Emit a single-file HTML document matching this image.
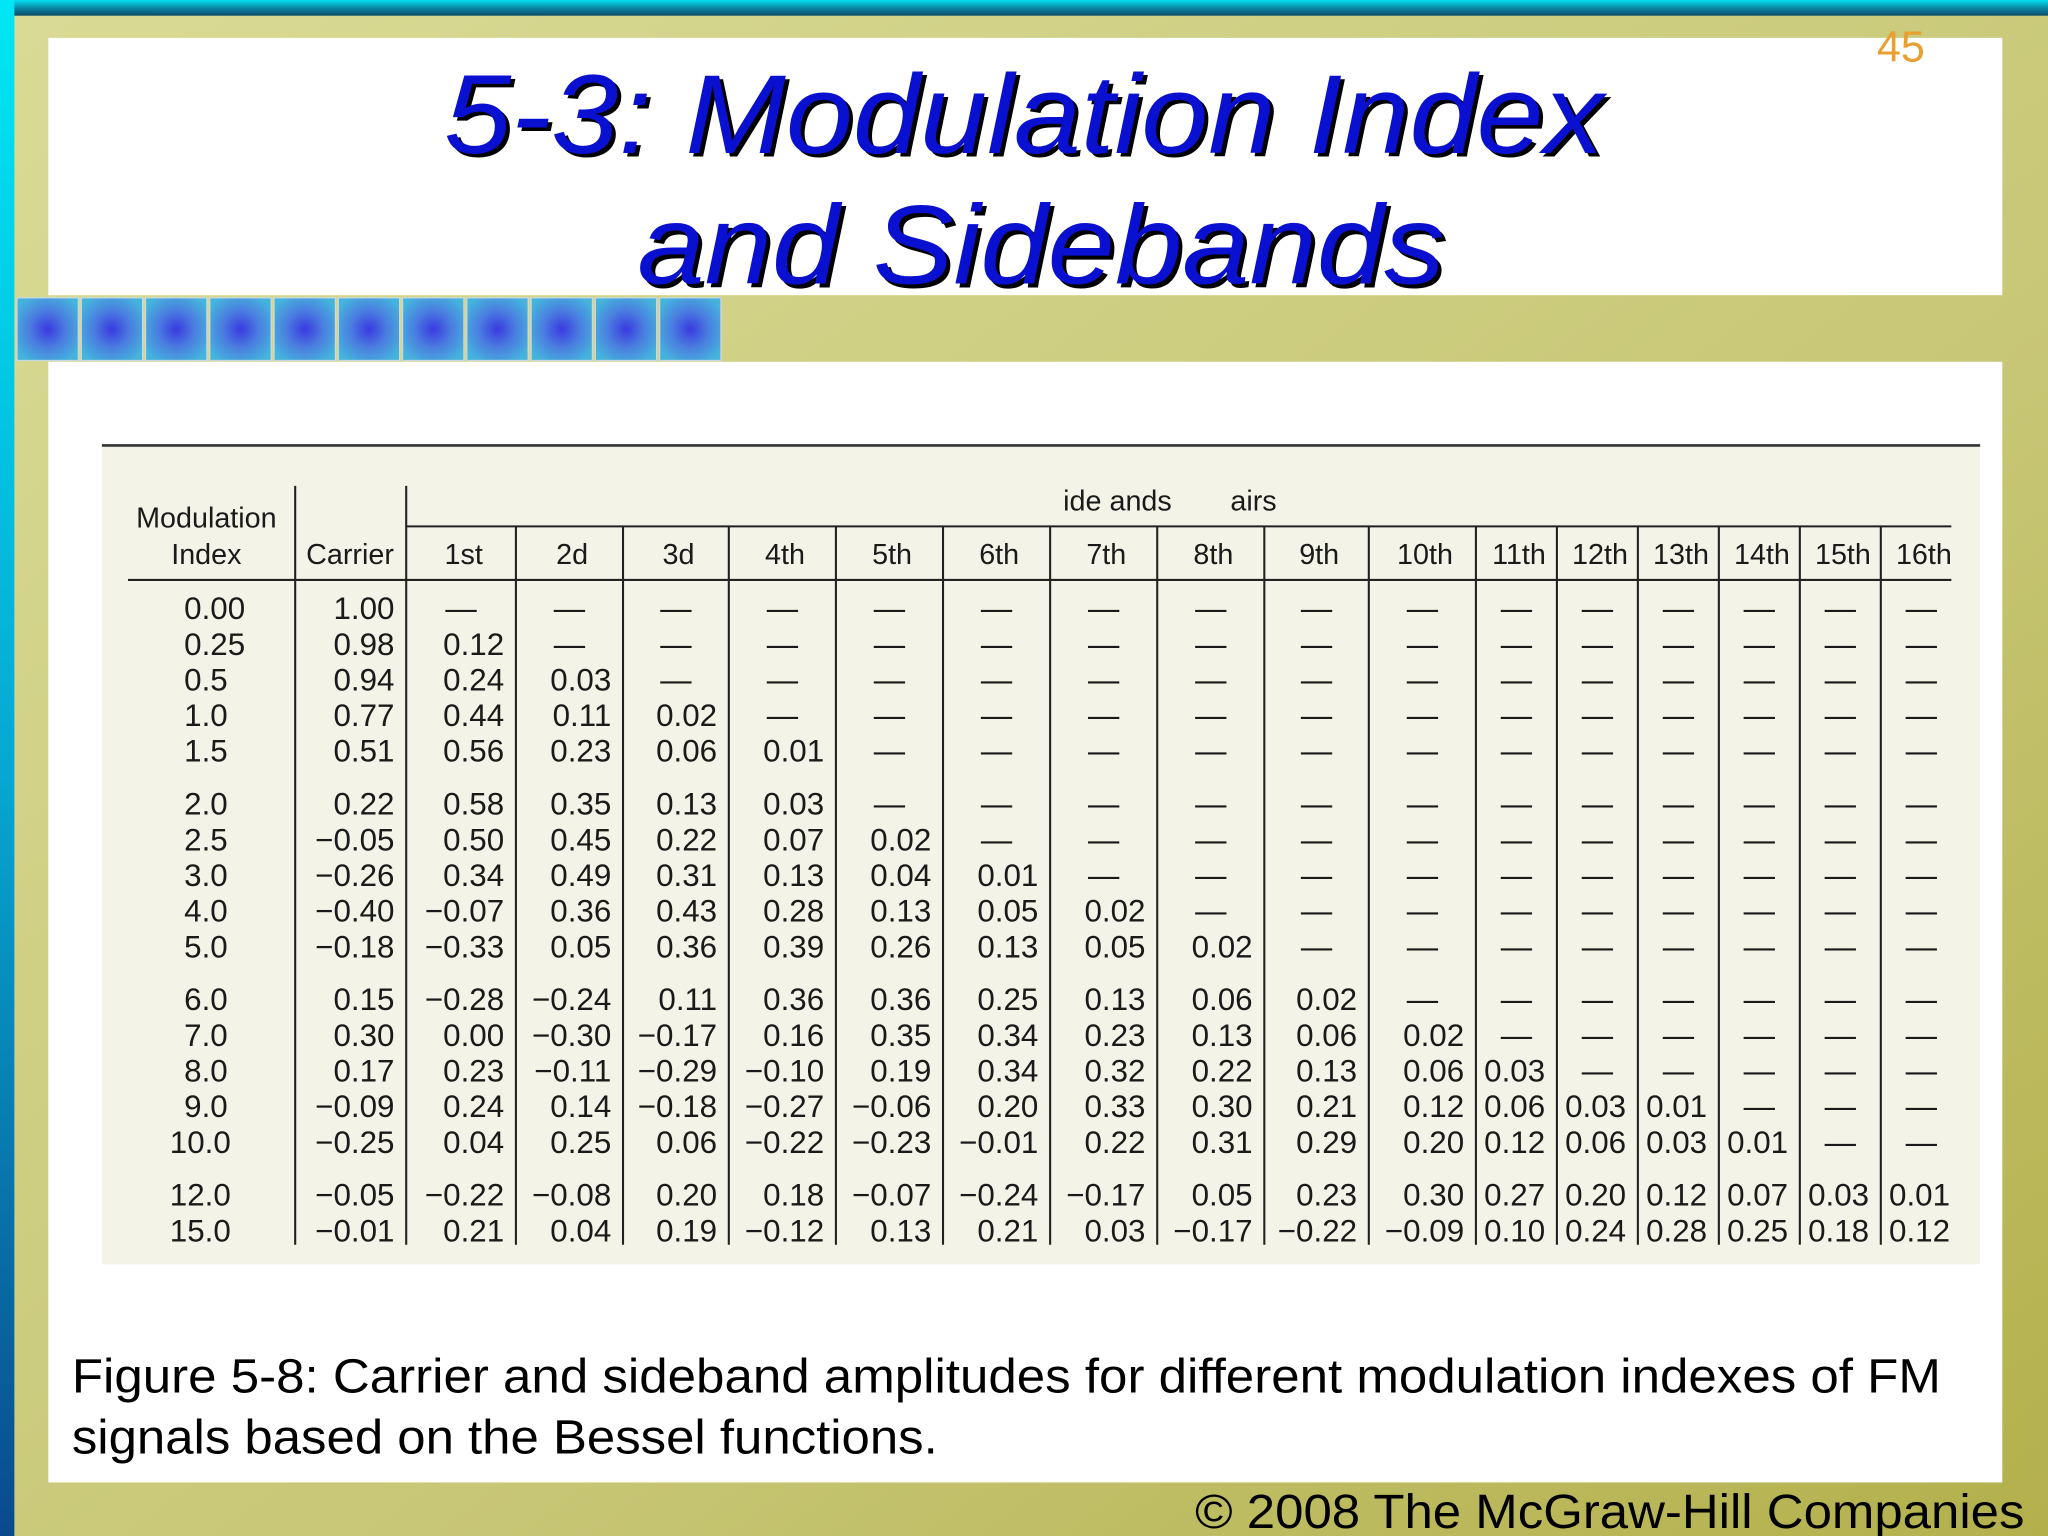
<!DOCTYPE html>
<html><head><meta charset="utf-8">
<style>
html,body{margin:0;padding:0;background:#fff;}
svg{display:block;}
text{font-family:"Liberation Sans",sans-serif;}
</style></head>
<body>
<svg id="page" width="2048" height="1536" viewBox="0 0 1568 1176" xmlns="http://www.w3.org/2000/svg">
<defs>
  <linearGradient id="olive" x1="0" y1="0" x2="1" y2="1">
    <stop offset="0" stop-color="#d9db96"/>
    <stop offset="0.6" stop-color="#c8c776"/>
    <stop offset="1" stop-color="#b3b04c"/>
  </linearGradient>
  <linearGradient id="leftbar" x1="0" y1="0" x2="0" y2="1">
    <stop offset="0" stop-color="#00e6f4"/>
    <stop offset="0.5" stop-color="#05a8d4"/>
    <stop offset="1" stop-color="#0a4a8c"/>
  </linearGradient>
  <linearGradient id="topbar" x1="0" y1="0" x2="0" y2="1">
    <stop offset="0" stop-color="#00e0f0"/>
    <stop offset="0.5" stop-color="#0a8aa8"/>
    <stop offset="1" stop-color="#0a4a68"/>
  </linearGradient>
  <radialGradient id="sq" cx="0.5" cy="0.5" r="0.6">
    <stop offset="0" stop-color="#3a3ae0"/>
    <stop offset="0.5" stop-color="#4a7ee0"/>
    <stop offset="1" stop-color="#45b4dc"/>
  </radialGradient>
</defs>
<rect x="0" y="0" width="1568" height="1176" fill="url(#olive)"/>
<rect x="0" y="0" width="1568" height="12" fill="url(#topbar)"/>
<rect x="0" y="0" width="11" height="1176" fill="url(#leftbar)"/>
<rect x="37" y="29" width="1496" height="197" fill="#ffffff"/>
<rect x="37" y="277" width="1496" height="858" fill="#ffffff"/>
<g id="squares"></g>

<text x="1437" y="47" font-size="33" fill="#e8a030">45</text>
<g font-style="italic" font-size="86">
  <text x="343" y="120" fill="#000" textLength="888" lengthAdjust="spacingAndGlyphs">5-3: Modulation Index</text>
  <text x="340" y="117" fill="#0a10d0" textLength="888" lengthAdjust="spacingAndGlyphs">5-3: Modulation Index</text>
  <text x="491" y="220" fill="#000" textLength="618" lengthAdjust="spacingAndGlyphs">and Sidebands</text>
  <text x="488" y="217" fill="#0a10d0" textLength="618" lengthAdjust="spacingAndGlyphs">and Sidebands</text>
</g>

<rect x="78" y="341" width="1438" height="627" fill="#f3f3e7"/>
<line x1="78" y1="341" x2="1516" y2="341" stroke="#333" stroke-width="2"/>
<g id="table"></g>

<g font-size="37" fill="#000">
  <text x="55" y="1066" textLength="1431" lengthAdjust="spacingAndGlyphs">Figure 5-8: Carrier and sideband amplitudes for different modulation indexes of FM</text>
  <text x="55" y="1113" textLength="663" lengthAdjust="spacingAndGlyphs">signals based on the Bessel functions.</text>
</g>
<text x="915" y="1170" font-size="37" fill="#000" textLength="635" lengthAdjust="spacingAndGlyphs">© 2008 The McGraw-Hill Companies</text>
</svg>
<script>
var indexLabels = ["0.00","0.25","0.5","1.0","1.5","2.0","2.5","3.0","4.0","5.0","6.0","7.0","8.0","9.0","10.0","12.0","15.0"];
var carrier = ["1.00","0.98","0.94","0.77","0.51","0.22","-0.05","-0.26","-0.40","-0.18","0.15","0.30","0.17","-0.09","-0.25","-0.05","-0.01"];
var sidebandHeaders = ["1st","2d","3d","4th","5th","6th","7th","8th","9th","10th","11th","12th","13th","14th","15th","16th"];
var sidebands = [
  [],
  ["0.12"],
  ["0.24","0.03"],
  ["0.44","0.11","0.02"],
  ["0.56","0.23","0.06","0.01"],
  ["0.58","0.35","0.13","0.03"],
  ["0.50","0.45","0.22","0.07","0.02"],
  ["0.34","0.49","0.31","0.13","0.04","0.01"],
  ["-0.07","0.36","0.43","0.28","0.13","0.05","0.02"],
  ["-0.33","0.05","0.36","0.39","0.26","0.13","0.05","0.02"],
  ["-0.28","-0.24","0.11","0.36","0.36","0.25","0.13","0.06","0.02"],
  ["0.00","-0.30","-0.17","0.16","0.35","0.34","0.23","0.13","0.06","0.02"],
  ["0.23","-0.11","-0.29","-0.10","0.19","0.34","0.32","0.22","0.13","0.06","0.03"],
  ["0.24","0.14","-0.18","-0.27","-0.06","0.20","0.33","0.30","0.21","0.12","0.06","0.03","0.01"],
  ["0.04","0.25","0.06","-0.22","-0.23","-0.01","0.22","0.31","0.29","0.20","0.12","0.06","0.03","0.01"],
  ["-0.22","-0.08","0.20","0.18","-0.07","-0.24","-0.17","0.05","0.23","0.30","0.27","0.20","0.12","0.07","0.03","0.01"],
  ["0.21","0.04","0.19","-0.12","0.13","0.21","0.03","-0.17","-0.22","-0.09","0.10","0.24","0.28","0.25","0.18","0.12"]
];
var NS = "http://www.w3.org/2000/svg";
function mk(tag, attrs, parent){var e=document.createElementNS(NS,tag);for(var k in attrs)e.setAttribute(k,attrs[k]);parent.appendChild(e);return e;}

// squares
var sqG = document.getElementById('squares');
for (var i=0;i<11;i++){
  var r = mk('rect',{x:13+i*49.2,y:228,width:47,height:48,fill:'url(#sq)',stroke:'#c8d8e0','stroke-width':1},sqG);
  
  
}

// table geometry
var colLines = [226,311,395,477,558,640,722,804,886,968,1048,1130,1192,1254,1316,1378,1440,1502];
var groupGap = [0,0,0,0,0,1,1,1,1,1,2,2,2,2,2,3,3];
var rowPitch = 27.3, groupPitch = 13.2, firstBaseline = 474;
function rowY(i){ return firstBaseline + i*rowPitch + groupGap[i]*groupPitch; }
function fmt(v){ return v.replace('-','\u2212'); }

var tG = document.getElementById('table');
function line(x1,y1,x2,y2,name){
  var l = mk('line',{x1:x1,y1:y1,x2:x2,y2:y2,stroke:'#222','stroke-width':1.6},tG);
  
  
}
function txt(x,y,s,anchor,name,size){
  var t = mk('text',{x:x,y:y,'font-size':size||24,fill:'#1a1a1a','text-anchor':anchor},tG);
  t.textContent = s;
  
  
  return t;
}
// rules
line(311,403,1494,403,'sideband-header-rule');
line(98,444,1494,444,'header-bottom-rule');
line(226,372,226,953,'index-column-divider');
line(311,372,311,953,'carrier-column-divider');
for (var c=2;c<17;c++) line(colLines[c],403,colLines[c],953,'sideband-column-divider');

// headers
txt(158,404,'Modulation','middle','index-header',22);
txt(158,432,'Index','middle','index-header',22);
txt(268,432,'Carrier','middle','carrier-header',22);
txt(814,391,'ide ands','start','sidebands-header',22);
txt(942,391,'airs','start','sidebands-header',22);
for (var c=0;c<16;c++){
  var cx=(colLines[c+1]+colLines[c+2])/2+2;
  txt(cx,432,sidebandHeaders[c],'middle','sideband-header',22);
}
// rows
for (var r=0;r<indexLabels.length;r++){
  var y=rowY(r);
  var lab=indexLabels[r];
  var x0 = parseFloat(lab)>=10 ? 130 : 141;
  txt(x0,y,lab,'start','index-value');
  txt(colLines[1]-9,y,fmt(carrier[r]),'end','carrier-value');
  for (var c=0;c<16;c++){
    var v=sidebands[r][c];
    var L=colLines[c+1], R=colLines[c+2];
    if (v===undefined){ txt((L+R)/2,y,'\u2014','middle','empty-cell'); }
    else { txt(R-9,y,fmt(v),'end','sideband-value'); }
  }
}
</script>
</body></html>
